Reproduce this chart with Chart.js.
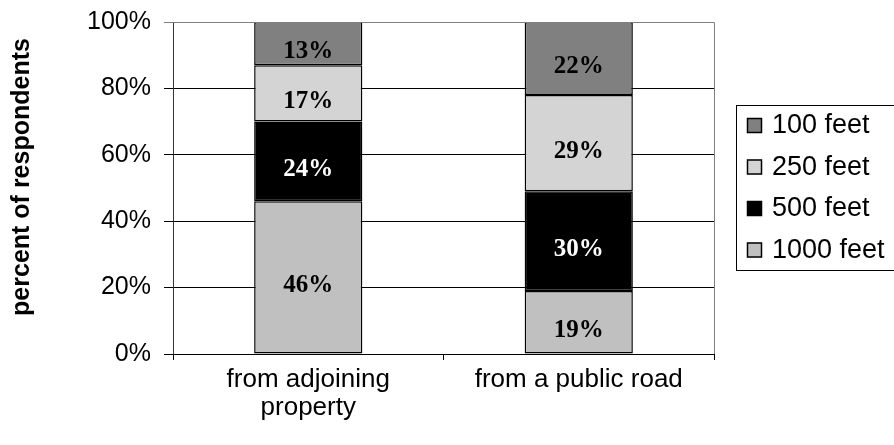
<!DOCTYPE html>
<html>
<head>
<meta charset="utf-8">
<script src="https://cdn.jsdelivr.net/npm/chart.js@4/dist/chart.umd.min.js"></script>
<style>
  html, body { margin: 0; padding: 0; background: #fff; }
  #wrap { width: 894px; height: 445px; position: relative; }
</style>
</head>
<body>
<div id="wrap"><canvas id="c" width="894" height="445"></canvas></div>
<script>
// Distance preference by viewpoint (stacked shares, bottom to top)
const categories = [['from adjoining', 'property'], 'from a public road'];
const seriesNames = ['1000 feet', '500 feet', '250 feet', '100 feet'];
const feet1000 = [46, 19];
const feet500 = [24, 30];
const feet250 = [17, 29];
const feet100 = [13, 22];
const yTicks = [0, 20, 40, 60, 80, 100];

const colors = ['#c0c0c0', '#000000', '#d4d4d4', '#808080'];
const values = [feet1000, feet500, feet250, feet100];

const SANS = '"Liberation Sans", Arial, sans-serif';
const SERIF = '"Liberation Serif", "Times New Roman", serif';

// Value labels centred in each stacked segment
const segmentLabels = {
  id: 'segmentLabels',
  afterDatasetsDraw(chart) {
    const ctx = chart.ctx;
    ctx.save();
    ctx.font = 'bold 25px ' + SERIF;
    ctx.textAlign = 'center';
    ctx.textBaseline = 'middle';
    chart.data.datasets.forEach((ds, i) => {
      const meta = chart.getDatasetMeta(i);
      meta.data.forEach((bar, j) => {
        const mid = (bar.y + bar.base) / 2 + 8;
        ctx.fillStyle = ds.backgroundColor === '#000000' ? '#ffffff' : '#000000';
        ctx.fillText(ds.data[j] + '%', bar.x, mid);
      });
    });
    ctx.restore();
  }
};

// Grey frame on the top and right of the plot, rotated axis title, boxed legend
const frameAndLegend = {
  id: 'frameAndLegend',
  afterDraw(chart) {
    const ctx = chart.ctx;
    const a = chart.chartArea;
    ctx.save();
    ctx.strokeStyle = '#808080';
    ctx.lineWidth = 1;
    ctx.beginPath();
    ctx.moveTo(a.left, a.top + 0.5);
    ctx.lineTo(a.right + 0.5, a.top + 0.5);
    ctx.lineTo(a.right + 0.5, a.bottom);
    ctx.stroke();

    // y-axis title
    ctx.save();
    ctx.translate(22, 177);
    ctx.rotate(-Math.PI / 2);
    ctx.font = 'bold 25px ' + SANS;
    ctx.fillStyle = '#000000';
    ctx.textAlign = 'center';
    ctx.textBaseline = 'middle';
    ctx.fillText('percent of respondents', 0, 0);
    ctx.restore();

    // legend box
    const bx = 736.5, by = 105.5, bw = 170, bh = 165;
    ctx.strokeStyle = '#000000';
    ctx.lineWidth = 1;
    ctx.strokeRect(bx, by, bw, bh);
    ctx.font = '27px ' + SANS;
    ctx.textAlign = 'left';
    ctx.textBaseline = 'middle';
    const order = [3, 2, 1, 0];
    order.forEach((di, k) => {
      const ds = chart.data.datasets[di];
      const cy = 125 + k * 41.5;
      ctx.fillStyle = ds.backgroundColor;
      ctx.fillRect(747, cy - 7, 15, 15);
      ctx.strokeStyle = '#000000';
      ctx.lineWidth = 1.5;
      ctx.strokeRect(747.5, cy - 6.5, 14, 14);
      ctx.fillStyle = '#000000';
      ctx.fillText(ds.label, 772, cy + 1);
    });
    ctx.restore();
  }
};

new Chart(document.getElementById('c'), {
  type: 'bar',
  data: {
    labels: categories,
    datasets: seriesNames.map((name, i) => ({
      label: name,
      data: values[i],
      backgroundColor: colors[i],
      borderColor: '#000000',
      borderWidth: 1.5,
      borderSkipped: false,
      categoryPercentage: 1.0,
      barPercentage: 0.4
    }))
  },
  options: {
    responsive: false,
    animation: false,
    devicePixelRatio: 1,
    layout: { padding: { left: 0, right: 180, top: 22, bottom: 0 } },
    plugins: {
      legend: { display: false },
      tooltip: { enabled: false }
    },
    scales: {
      x: {
        stacked: true,
        offset: true,
        grid: {
          display: true,
          offset: true,
          drawOnChartArea: false,
          drawTicks: true,
          tickLength: 6,
          color: '#000000'
        },
        border: { display: true, color: '#000000', width: 1 },
        ticks: {
          color: '#000000',
          padding: 6,
          font: { family: SANS, size: 26, lineHeight: 1.08 },
          maxRotation: 0,
          autoSkip: false
        },
        afterFit(scale) {
          scale.height = 91;
          scale.paddingLeft = 0;
          scale.paddingRight = 0;
        }
      },
      y: {
        stacked: true,
        min: 0,
        max: 100,
        afterBuildTicks(scale) { scale.ticks = yTicks.map(v => ({ value: v })); },
        grid: {
          color: (c) => (c.tick && c.tick.value === 100 ? '#808080' : '#000000'),
          lineWidth: 1,
          drawTicks: true,
          tickLength: 9
        },
        border: { display: true, color: '#333333', width: 1 },
        ticks: {
          color: '#000000',
          padding: 13,
          font: { family: SANS, size: 25 },
          callback: (v) => v + '%'
        },
        title: { display: false },
        afterFit(scale) {
          scale.width = 173;
          scale.paddingTop = 0;
          scale.paddingBottom = 0;
        }
      }
    }
  },
  plugins: [segmentLabels, frameAndLegend]
});
</script>
</body>
</html>
